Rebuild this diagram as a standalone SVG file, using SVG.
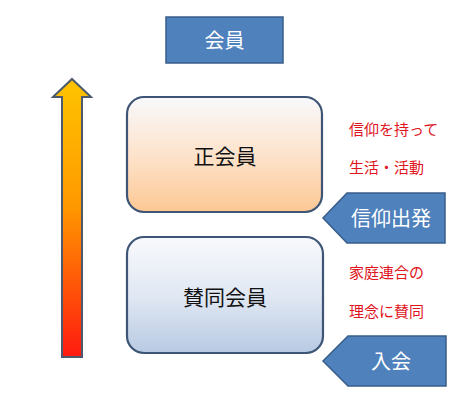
<svg xmlns="http://www.w3.org/2000/svg" width="472" height="404" viewBox="0 0 472 404">
<defs>
<linearGradient id="gArrow" x1="0" y1="0" x2="0" y2="1">
<stop offset="0" stop-color="#ffc400"/>
<stop offset="0.45" stop-color="#ff9a00"/>
<stop offset="1" stop-color="#ff1a10"/>
</linearGradient>
<linearGradient id="gPeach" x1="0" y1="0" x2="0" y2="1">
<stop offset="0" stop-color="#f8f9fc"/>
<stop offset="0.5" stop-color="#fde3cc"/>
<stop offset="1" stop-color="#fcc894"/>
</linearGradient>
<linearGradient id="gBlue" x1="0" y1="0" x2="0" y2="1">
<stop offset="0" stop-color="#f8f9fc"/>
<stop offset="0.5" stop-color="#e1e8f3"/>
<stop offset="1" stop-color="#b8cae3"/>
</linearGradient>
<style>
.blue{fill:#4f81bd;stroke:#385d8a;stroke-width:1.5}
.card{stroke:#3e5575;stroke-width:2.2}
.wt{fill:#ffffff;font-family:"Noto Sans CJK JP","Noto Sans CJK SC",sans-serif;font-size:20px;text-anchor:middle}
.bk{fill:#111111;font-family:"Noto Sans CJK JP","Noto Sans CJK SC",sans-serif;font-size:21px;text-anchor:middle}
.rd{fill:#e0141c;font-family:"Noto Sans CJK JP","Noto Sans CJK SC",sans-serif;font-size:15px}
</style>
</defs>
<rect width="472" height="404" fill="#ffffff"/>
<g id="arrow">
<polygon points="72,79 91,97 82,97 82,357 62,357 62,97 53,97" fill="url(#gArrow)" stroke="#4c5a6c" stroke-width="2"/>
</g>
<g id="member">
<rect x="166" y="17" width="117" height="46" class="blue"/>
<text x="224.5" y="48" class="wt">会員</text>
</g>
<g id="full-member">
<rect x="127" y="97" width="195" height="115" rx="17" fill="url(#gPeach)" class="card"/>
<text x="225" y="164" class="bk">正会員</text>
</g>
<g id="supporting-member">
<rect x="127" y="237" width="196" height="116" rx="17" fill="url(#gBlue)" class="card"/>
<text x="225" y="305" class="bk">賛同会員</text>
</g>
<g id="note-full">
<text x="349" y="135" class="rd">信仰を持って</text>
<text x="349" y="173" class="rd">生活・活動</text>
</g>
<g id="note-support">
<text x="349" y="278" class="rd">家庭連合の</text>
<text x="349" y="317" class="rd">理念に賛同</text>
</g>
<g id="connectors">
<g id="faith-start">
<polygon points="347,193 445,193 445,243 347,243 323,218" class="blue"/>
<text x="391" y="226" class="wt">信仰出発</text>
</g>
<g id="join">
<polygon points="348,336 446,336 446,386 348,386 323,361" class="blue"/>
<text x="391" y="369" class="wt">入会</text>
</g>
</g>
</svg>
